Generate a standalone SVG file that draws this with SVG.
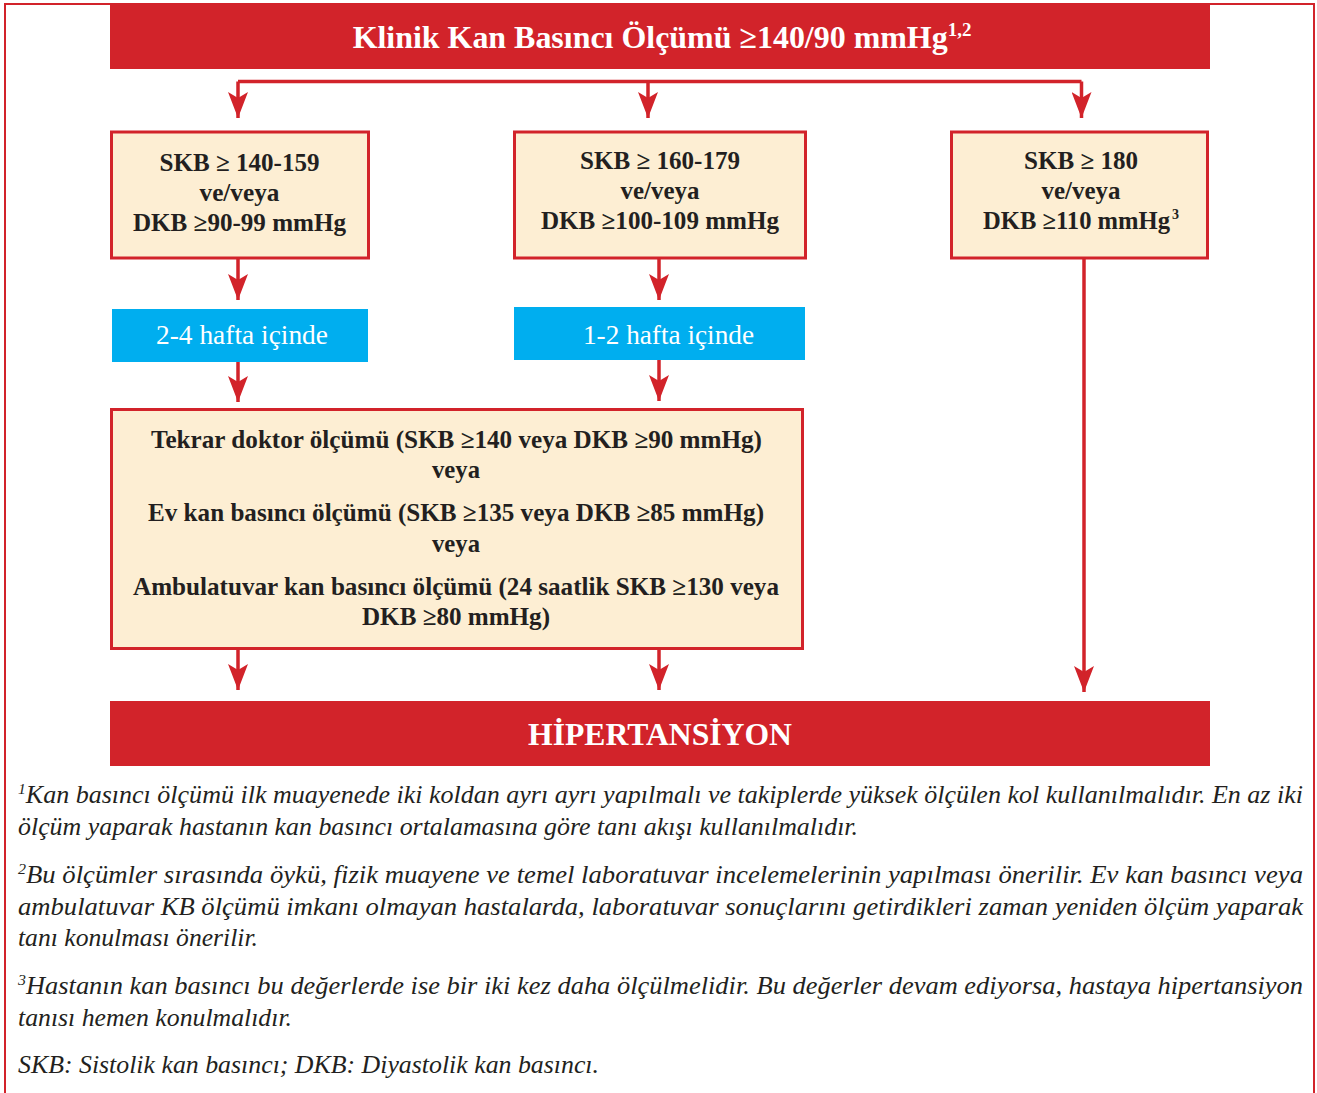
<svg xmlns="http://www.w3.org/2000/svg" width="1317" height="1093" viewBox="0 0 1317 1093">
<defs>
<style>
.frame{fill:none;stroke:#d2232a;stroke-width:2}
.bar{fill:#d2232a}
.box{fill:#fdeed3;stroke:#d2232a;stroke-width:3}
.blue{fill:#00aeef}
.con{fill:none;stroke:#d2232a;stroke-width:3.5}
.tb{font-family:"Liberation Serif","Times New Roman",serif;font-weight:bold;fill:#ffffff;text-anchor:middle}
.bx{font-family:"Liberation Serif","Times New Roman",serif;font-weight:bold;font-size:25px;fill:#231f20;text-anchor:middle}
.bl{font-family:"Liberation Serif","Times New Roman",serif;font-size:27px;fill:#ffffff;text-anchor:middle}
.fn{font-family:"Liberation Serif","Times New Roman",serif;font-style:italic;font-size:25px;fill:#231f20}
.sup{font-size:15px}
</style>
<marker id="ah" markerUnits="userSpaceOnUse" markerWidth="27" markerHeight="20" viewBox="0 0 27 20" refX="26" refY="10" orient="auto">
<path d="M0,0 L26,10 L0,20 L6,10 Z" fill="#d2232a"/>
</marker>
</defs>

<rect width="1317" height="1093" fill="#ffffff"/>
<path class="frame" d="M5,1093 V4 H1314 V1093"/>

<g id="title">
<rect class="bar" x="110" y="3" width="1100" height="66"/>
<text class="tb" x="662" y="48" font-size="32"><tspan textLength="595" lengthAdjust="spacingAndGlyphs">Klinik Kan Basıncı Ölçümü ≥140/90 mmHg</tspan><tspan font-size="19" dy="-12">1,2</tspan></text>
</g>

<g id="connectors">
<path class="con" d="M238,81.5 H1081.5"/>
<path class="con" d="M238,81.5 V118" marker-end="url(#ah)"/>
<path class="con" d="M648,81.5 V118" marker-end="url(#ah)"/>
<path class="con" d="M1081.5,81.5 V118" marker-end="url(#ah)"/>
<path class="con" d="M238,259 V300" marker-end="url(#ah)"/>
<path class="con" d="M659,259 V300" marker-end="url(#ah)"/>
<path class="con" d="M238,362 V402" marker-end="url(#ah)"/>
<path class="con" d="M659,360 V401" marker-end="url(#ah)"/>
<path class="con" d="M238,649 V690" marker-end="url(#ah)"/>
<path class="con" d="M659,649 V690" marker-end="url(#ah)"/>
<path class="con" d="M1084,259 V692" marker-end="url(#ah)"/>
</g>

<g id="box1">
<rect class="box" x="111.5" y="132" width="257" height="126"/>
<text class="bx" x="239.5" y="171" textLength="160" lengthAdjust="spacingAndGlyphs">SKB ≥ 140-159</text>
<text class="bx" x="239.5" y="201" textLength="80" lengthAdjust="spacingAndGlyphs">ve/veya</text>
<text class="bx" x="239.5" y="231" textLength="213" lengthAdjust="spacingAndGlyphs">DKB ≥90-99 mmHg</text>
</g>

<g id="box2">
<rect class="box" x="514.5" y="132" width="291" height="126"/>
<text class="bx" x="660" y="169" textLength="160" lengthAdjust="spacingAndGlyphs">SKB ≥ 160-179</text>
<text class="bx" x="660" y="199" textLength="79" lengthAdjust="spacingAndGlyphs">ve/veya</text>
<text class="bx" x="660" y="229" textLength="238" lengthAdjust="spacingAndGlyphs">DKB ≥100-109 mmHg</text>
</g>

<g id="box3">
<rect class="box" x="951.5" y="132" width="256" height="126"/>
<text class="bx" x="1081" y="169" textLength="114" lengthAdjust="spacingAndGlyphs">SKB ≥ 180</text>
<text class="bx" x="1081" y="199" textLength="79" lengthAdjust="spacingAndGlyphs">ve/veya</text>
<text class="bx" x="1081" y="229"><tspan textLength="187" lengthAdjust="spacingAndGlyphs">DKB ≥110 mmHg</tspan><tspan font-size="14" dx="2" dy="-10">3</tspan></text>
</g>

<g id="wait1">
<rect class="blue" x="112" y="309" width="256" height="53"/>
<text class="bl" x="242" y="344" textLength="172" lengthAdjust="spacingAndGlyphs">2-4 hafta içinde</text>
</g>

<g id="wait2">
<rect class="blue" x="514" y="307" width="291" height="53"/>
<text class="bl" x="668.5" y="344" textLength="171" lengthAdjust="spacingAndGlyphs">1-2 hafta içinde</text>
</g>

<g id="confirm">
<rect class="box" x="111.5" y="409.5" width="691" height="239"/>
<text class="bx" x="456.5" y="448" textLength="611" lengthAdjust="spacingAndGlyphs">Tekrar doktor ölçümü (SKB ≥140 veya DKB ≥90 mmHg)</text>
<text class="bx" x="456" y="478" textLength="48" lengthAdjust="spacingAndGlyphs">veya</text>
<text class="bx" x="456" y="521" textLength="616" lengthAdjust="spacingAndGlyphs">Ev kan basıncı ölçümü (SKB ≥135 veya DKB ≥85 mmHg)</text>
<text class="bx" x="456" y="552" textLength="48" lengthAdjust="spacingAndGlyphs">veya</text>
<text class="bx" x="456" y="595" textLength="646" lengthAdjust="spacingAndGlyphs">Ambulatuvar kan basıncı ölçümü (24 saatlik SKB ≥130 veya</text>
<text class="bx" x="456" y="625" textLength="188" lengthAdjust="spacingAndGlyphs">DKB ≥80 mmHg)</text>
</g>

<g id="hypertension">
<rect class="bar" x="110" y="701" width="1100" height="65"/>
<text class="tb" x="660" y="745" font-size="31" textLength="264" lengthAdjust="spacingAndGlyphs">HİPERTANSİYON</text>
</g>

<g id="footnotes">
<text class="fn" x="18" y="803" textLength="1285" lengthAdjust="spacingAndGlyphs"><tspan class="sup" dy="-9">1</tspan><tspan dy="9">Kan basıncı ölçümü ilk muayenede iki koldan ayrı ayrı yapılmalı ve takiplerde yüksek ölçülen kol kullanılmalıdır. En az iki</tspan></text>
<text class="fn" x="18" y="835" textLength="840" lengthAdjust="spacingAndGlyphs">ölçüm yaparak hastanın kan basıncı ortalamasına göre tanı akışı kullanılmalıdır.</text>
<text class="fn" x="18" y="883" textLength="1285" lengthAdjust="spacingAndGlyphs"><tspan class="sup" dy="-9">2</tspan><tspan dy="9">Bu ölçümler sırasında öykü, fizik muayene ve temel laboratuvar incelemelerinin yapılması önerilir. Ev kan basıncı veya</tspan></text>
<text class="fn" x="18" y="915" textLength="1285" lengthAdjust="spacingAndGlyphs">ambulatuvar KB ölçümü imkanı olmayan hastalarda, laboratuvar sonuçlarını getirdikleri zaman yeniden ölçüm yaparak</text>
<text class="fn" x="18" y="946" textLength="240" lengthAdjust="spacingAndGlyphs">tanı konulması önerilir.</text>
<text class="fn" x="18" y="994" textLength="1285" lengthAdjust="spacingAndGlyphs"><tspan class="sup" dy="-9">3</tspan><tspan dy="9">Hastanın kan basıncı bu değerlerde ise bir iki kez daha ölçülmelidir. Bu değerler devam ediyorsa, hastaya hipertansiyon</tspan></text>
<text class="fn" x="18" y="1026" textLength="274" lengthAdjust="spacingAndGlyphs">tanısı hemen konulmalıdır.</text>
<text class="fn" x="18" y="1073" textLength="581" lengthAdjust="spacingAndGlyphs">SKB: Sistolik kan basıncı; DKB: Diyastolik kan basıncı.</text>
</g>
</svg>
